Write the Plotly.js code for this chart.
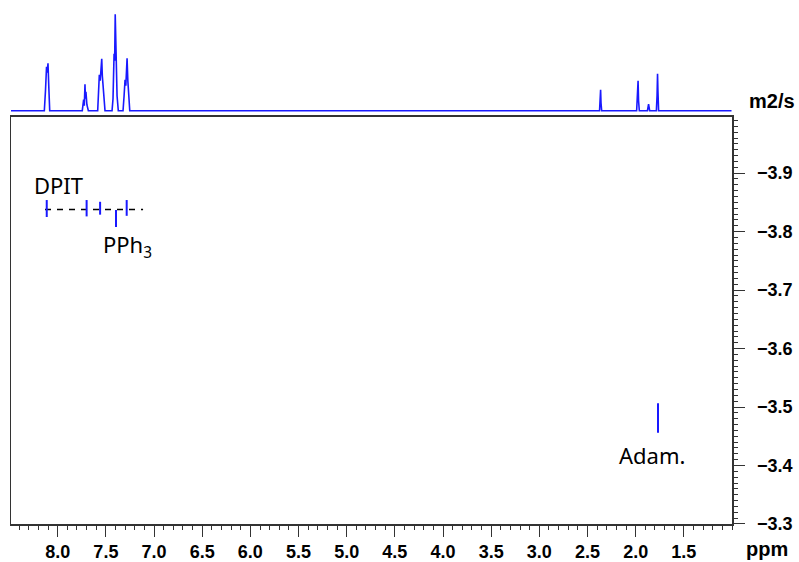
<!DOCTYPE html>
<html>
<head>
<meta charset="utf-8">
<script src="https://cdn.plot.ly/plotly-3.0.1.min.js"></script>
<style>html,body{margin:0;padding:0;background:#fff;}#chart{width:799px;height:562px;}</style>
</head>
<body>
<div id="chart"></div>
<script>
// 1D projection spectrum (ppm, intensity)
const specPpm = [8.485, 8.139, 8.127, 8.116, 8.109, 8.101, 8.093, 8.083,
  7.745, 7.736, 7.731, 7.724, 7.717, 7.712, 7.707, 7.697, 7.682,
  7.585, 7.574, 7.568, 7.559, 7.550, 7.543, 7.537, 7.530, 7.519, 7.509,
  7.436, 7.426, 7.415, 7.409, 7.403, 7.396, 7.384, 7.371,
  7.322, 7.311, 7.301, 7.293, 7.286, 7.280, 7.272, 7.263, 7.252,
  2.375, 2.368, 2.364, 2.360, 2.353,
  1.990, 1.983, 1.978, 1.975, 1.970, 1.962,
  1.878, 1.866, 1.855,
  1.785, 1.778, 1.773, 1.769, 1.762,
  1.005];
const specInt = [0, 0, 20, 44, 38, 47.5, 25, 0,
  0, 8, 11, 5, 26.5, 12, 19, 6, 0,
  0, 25, 36, 30, 40, 52, 35, 26, 10, 0,
  0, 12, 57, 50, 96.5, 60, 15, 0,
  0, 15, 31, 25, 40, 52.5, 30, 8, 0,
  0, 10, 21, 8, 0,
  0, 12, 26, 30, 10, 0,
  0, 6.5, 0,
  0, 15, 37, 20, 0,
  0];

// DOSY cross peaks (ppm, log D range)
const dosyPpm = [8.114, 7.700, 7.560, 7.395, 7.284, 1.768];
const dosyTop = [-3.854, -3.854, -3.851, -3.837, -3.854, -3.5065];
const dosyBottom = [-3.825, -3.826, -3.829, -3.808, -3.827, -3.456];

// dashed guide line for DPIT
const dashPpm = [8.132, 7.114];
const dashD = [-3.838, -3.838];

// labels
const labelText = ['DPIT', 'PPh<sub>3</sub>', 'Adam.'];
const labelPpm = [7.99, 7.28, 1.83];
const labelD = [-3.879, -3.776, -3.418];

// ticks
const xTickVals = [8.0, 7.5, 7.0, 6.5, 6.0, 5.5, 5.0, 4.5, 4.0, 3.5, 3.0, 2.5, 2.0, 1.5];
const xTickText = ['8.0', '7.5', '7.0', '6.5', '6.0', '5.5', '5.0', '4.5', '4.0', '3.5', '3.0', '2.5', '2.0', '1.5'];
const yTickVals = [-3.9, -3.8, -3.7, -3.6, -3.5, -3.4, -3.3];
const yTickText = ['\u22123.9', '\u22123.8', '\u22123.7', '\u22123.6', '\u22123.5', '\u22123.4', '\u22123.3'];

const segX = [], segY = [];
for (let i = 0; i < dosyPpm.length; i++) {
  segX.push(dosyPpm[i], dosyPpm[i], null);
  segY.push(dosyTop[i], dosyBottom[i], null);
}

const blue = 'rgb(25,25,255)';
const traces = [
  {x: specPpm, y: specInt, xaxis: 'x2', yaxis: 'y2', type: 'scatter', mode: 'lines',
   line: {color: blue, width: 1.6}, hoverinfo: 'skip', showlegend: false},
  {x: dashPpm, y: dashD, xaxis: 'x', yaxis: 'y', type: 'scatter', mode: 'lines',
   line: {color: '#000', width: 1.5, dash: '6px,6px'}, hoverinfo: 'skip', showlegend: false},
  {x: segX, y: segY, xaxis: 'x', yaxis: 'y', type: 'scatter', mode: 'lines',
   line: {color: blue, width: 2}, hoverinfo: 'skip', showlegend: false}
];

const annotations = labelText.map((t, i) => ({
  text: t, x: labelPpm[i], y: labelD[i], xref: 'x', yref: 'y', showarrow: false,
  xanchor: 'center', yanchor: 'middle',
  font: {family: 'Noto Sans, Open Sans, sans-serif', size: 22, color: '#000'}
}));
annotations.push({text: 'm2/s', xref: 'paper', yref: 'paper', x: 1.0555, y: 0.8135,
  showarrow: false, xanchor: 'center', yanchor: 'middle',
  font: {family: 'Liberation Sans, Arial, sans-serif', size: 20, color: '#000', weight: 'bold'}});
annotations.push({text: 'ppm', xref: 'paper', yref: 'paper', x: 1.049, y: -0.049,
  showarrow: false, xanchor: 'center', yanchor: 'middle',
  font: {family: 'Liberation Sans, Arial, sans-serif', size: 20, color: '#000', weight: 'bold'}});

const tickFont = {family: 'Liberation Sans, Arial, sans-serif', size: 18, color: '#000', weight: 'bold'};

const layout = {
  width: 799, height: 562,
  margin: {l: 11, r: 67, t: 4, b: 38},
  paper_bgcolor: '#fff', plot_bgcolor: '#fff',
  showlegend: false,
  xaxis: {
    range: [8.485, 1.0], domain: [0, 1], anchor: 'y',
    showgrid: false, zeroline: false,
    showline: true, linecolor: '#333', linewidth: 1.5, mirror: true,
    ticks: 'outside', ticklen: 11, tickwidth: 1, tickcolor: '#333',
    tickmode: 'array', tickvals: xTickVals, ticktext: xTickText,
    tickfont: tickFont, ticklabelstandoff: 0,
    minor: {tickmode: 'linear', tick0: 1.0, dtick: 0.1, ticks: 'outside', ticklen: 4, tickwidth: 1, tickcolor: '#333', showgrid: false}
  },
  yaxis: {
    range: [-3.3, -3.996], domain: [0, 0.7827], anchor: 'x', side: 'right',
    showgrid: false, zeroline: false,
    showline: true, linecolor: '#333', linewidth: 1.5, mirror: true,
    ticks: 'outside', ticklen: 11, tickwidth: 1, tickcolor: '#333',
    tickmode: 'array', tickvals: yTickVals, ticktext: yTickText,
    tickfont: tickFont, ticklabelstandoff: 9,
    minor: {tickmode: 'linear', tick0: -3.3, dtick: 0.01, ticks: 'outside', ticklen: 4, tickwidth: 1, tickcolor: '#333', showgrid: false}
  },
  xaxis2: {matches: 'x', anchor: 'y2', visible: false, range: [8.485, 1.0]},
  yaxis2: {domain: [0.79, 1], anchor: 'x2', visible: false, range: [-2.5, 106.7]},
  annotations: annotations
};

Plotly.newPlot('chart', traces, layout, {staticPlot: true, displayModeBar: false});
</script>
</body>
</html>
